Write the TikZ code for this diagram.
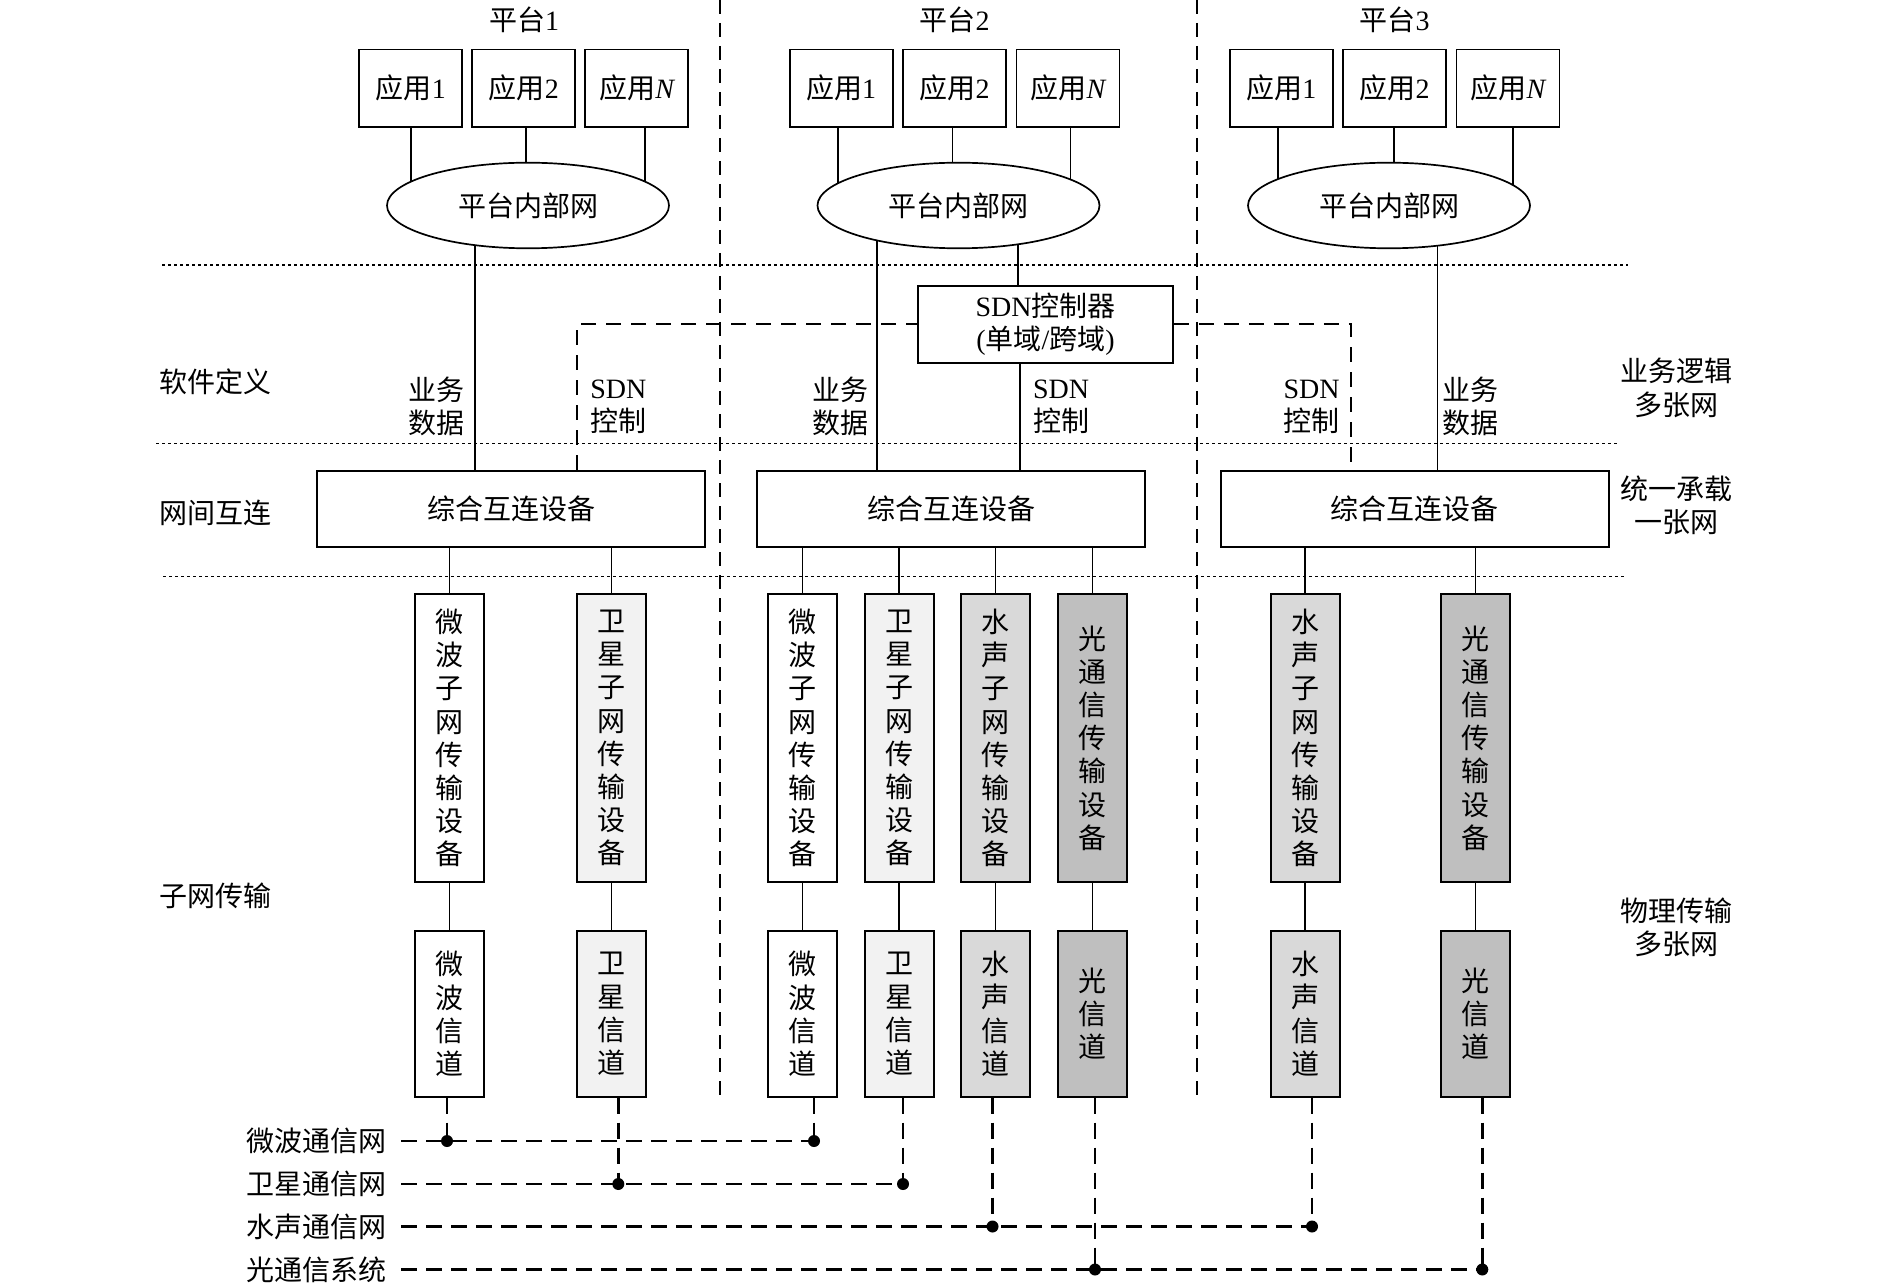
\documentclass[tikz,border=0pt]{standalone}
\usepackage{fontspec}
\setmainfont{Noto Sans CJK SC}
\newfontfamily\tnr{Liberation Serif}
\usetikzlibrary{shapes.geometric,backgrounds}
\begin{document}
\begin{tikzpicture}[x=0.5pt,y=-0.5pt,
  font=\fontsize{14pt}{16.6pt}\selectfont,
  box/.style={draw,line width=0.85pt,inner sep=0pt,align=center,fill=white},
  app/.style={box,minimum width=51.5pt,minimum height=38.8pt},
  ell/.style={box,ellipse,minimum width=141pt,minimum height=42.8pt},
  zbox/.style={box,minimum width=194pt,minimum height=38.3pt},
  tall/.style={box,minimum width=34.5pt,minimum height=144pt},
  chan/.style={box,minimum width=34.5pt,minimum height=83pt},
  lab/.style={inner sep=0pt,align=center},
  conn/.style={line width=0.75pt},
  sepline/.style={line width=0.85pt,dash pattern=on 7pt off 4.5pt},
  dotline/.style={line width=0.75pt,dash pattern=on 1.5pt off 1.5pt},
  sdnd/.style={line width=0.85pt,dash pattern=on 7.5pt off 5pt},
  botd/.style={line width=1.2pt,dash pattern=on 8pt off 4.5pt},
  wfill/.style={fill=white},
  sfill/.style={fill=black!5},
  hfill/.style={fill=black!15},
  gfill/.style={fill=black!25}
]
\useasboundingbox (0,0) rectangle (1890,1283);

% separators and layer lines
\draw[sepline] (720,0) -- (720,1101);
\draw[sepline] (1197,0) -- (1197,1101);
\draw[dotline] (162,265) -- (1628,265);
\draw[dotline] (156,443.3) -- (1619,443.3);
\draw[dotline] (163,576.7) -- (1626,576.7);

% platform labels
\node[lab] (p1) at (524,20) {平台{\tnr 1}};
\node[lab] (p2) at (954.5,20) {平台{\tnr 2}};
\node[lab] (p3) at (1394.7,20) {平台{\tnr 3}};

% apps
\node[app] (a11) at (410.8,88.2) {应用{\tnr 1}};
\node[app] (a12) at (523.8,88.2) {应用{\tnr 2}};
\node[app] (a13) at (636.7,88.2) {应用{\tnr\itshape N}};
\node[app] (a21) at (841.2,88.2) {应用{\tnr 1}};
\node[app] (a22) at (954.5,88.2) {应用{\tnr 2}};
\node[app] (a23) at (1067.9,88.2) {应用{\tnr\itshape N}};
\node[app] (a31) at (1281.3,88.2) {应用{\tnr 1}};
\node[app] (a32) at (1394.7,88.2) {应用{\tnr 2}};
\node[app] (a33) at (1508,88.2) {应用{\tnr\itshape N}};

% ellipses
\node[ell] (e1) at (528,205.5) {平台内部网};
\node[ell] (e2) at (958.5,205.5) {平台内部网};
\node[ell] (e3) at (1389,205.5) {平台内部网};

% SDN controller
\node[box,minimum width=127.5pt,minimum height=38.5pt] (sdn) at (1045.5,324.2) {{\tnr SDN}控制器\\{\tnr(}单域{\tnr/}跨域{\tnr)}};

% interconnect boxes
\node[zbox] (z1) at (511.2,509) {综合互连设备};
\node[zbox] (z2) at (951.2,509) {综合互连设备};
\node[zbox] (z3) at (1414.7,509) {综合互连设备};

% labels in software-defined layer
\node[lab,anchor=east] (bw1) at (465,406.7) {业务\\数据};
\node[lab,anchor=west] (sc1) at (590,406.7) {{\tnr SDN}\\控制};
\node[lab,anchor=east] (bw2) at (869,406.7) {业务\\数据};
\node[lab,anchor=west] (sc2) at (1032.7,406.7) {{\tnr SDN}\\控制};
\node[lab,anchor=east] (sc3) at (1340,406.7) {{\tnr SDN}\\控制};
\node[lab,anchor=west] (bw3) at (1442,406.7) {业务\\数据};

% left labels
\node[lab] (l1) at (215.3,381.7) {软件定义};
\node[lab] (l2) at (215.3,513) {网间互连};
\node[lab] (l3) at (215.3,896) {子网传输};
% right labels
\node[lab] (r1) at (1676,388) {业务逻辑\\多张网};
\node[lab] (r2) at (1676,505.5) {统一承载\\一张网};
\node[lab] (r3) at (1676,927.5) {物理传输\\多张网};

% transmission devices
\node[tall,wfill] (d1) at (449.5,738) {微\\波\\子\\网\\传\\输\\设\\备};
\node[tall,sfill] (d2) at (611.3,738) {卫\\星\\子\\网\\传\\输\\设\\备};
\node[tall,wfill] (d3) at (802.7,738) {微\\波\\子\\网\\传\\输\\设\\备};
\node[tall,sfill] (d4) at (899.2,738) {卫\\星\\子\\网\\传\\输\\设\\备};
\node[tall,hfill] (d5) at (995.7,738) {水\\声\\子\\网\\传\\输\\设\\备};
\node[tall,gfill] (d6) at (1092.5,738) {光\\通\\信\\传\\输\\设\\备};
\node[tall,hfill] (d7) at (1305.2,738) {水\\声\\子\\网\\传\\输\\设\\备};
\node[tall,gfill] (d8) at (1475.7,738) {光\\通\\信\\传\\输\\设\\备};

% channels
\node[chan,wfill] (c1) at (449.5,1013.8) {微\\波\\信\\道};
\node[chan,sfill] (c2) at (611.3,1013.8) {卫\\星\\信\\道};
\node[chan,wfill] (c3) at (802.7,1013.8) {微\\波\\信\\道};
\node[chan,sfill] (c4) at (899.2,1013.8) {卫\\星\\信\\道};
\node[chan,hfill] (c5) at (995.7,1013.8) {水\\声\\信\\道};
\node[chan,gfill] (c6) at (1092.5,1013.8) {光\\信\\道};
\node[chan,hfill] (c7) at (1305.2,1013.8) {水\\声\\信\\道};
\node[chan,gfill] (c8) at (1475.7,1013.8) {光\\信\\道};

% network labels
\node[lab,anchor=east] (n1) at (387,1141) {微波通信网};
\node[lab,anchor=east] (n2) at (387,1184) {卫星通信网};
\node[lab,anchor=east] (n3) at (387,1226.5) {水声通信网};
\node[lab,anchor=east] (n4) at (387,1269.5) {光通信系统};

\begin{scope}[on background layer]
  % apps to platform networks
  \draw[conn] (411,0 |- a11.south) -- (411,0 |- e1.center);
  \draw[conn] (526,0 |- a12.south) -- (526,0 |- e1.center);
  \draw[conn] (645,0 |- a13.south) -- (645,0 |- e1.center);
  \draw[conn] (838,0 |- a21.south) -- (838,0 |- e2.center);
  \draw[conn] (952.5,0 |- a22.south) -- (952.5,0 |- e2.center);
  \draw[conn] (1070.6,0 |- a23.south) -- (1070.6,0 |- e2.center);
  \draw[conn] (1278,0 |- a31.south) -- (1278,0 |- e3.center);
  \draw[conn] (1394,0 |- a32.south) -- (1394,0 |- e3.center);
  \draw[conn] (1513,0 |- a33.south) -- (1513,0 |- e3.center);
  % business data
  \draw[conn] (475,0 |- e1.center) -- (475,0 |- z1.north);
  \draw[conn] (877,0 |- e2.center) -- (877,0 |- z2.north);
  \draw[conn] (1437.4,0 |- e3.center) -- (1437.4,0 |- z3.north);
  % SDN controller links
  \draw[conn] (1018,0 |- e2.center) -- (1018,0 |- sdn.north);
  \draw[conn] (1020,0 |- sdn.south) -- (1020,0 |- z2.north);
\end{scope}

% SDN control dashed
\draw[sdnd] (577,0 |- z1.north) |- (sdn.west);
\draw[sdnd] (sdn.east) -| (1351,0 |- z3.north);

% interconnect to devices
\foreach \d/\z in {d1/z1,d2/z1,d3/z2,d4/z2,d5/z2,d6/z2,d7/z3,d8/z3}
  \draw[conn] (\d.north |- \z.south) -- (\d.north);
\foreach \i in {1,...,8}
  \draw[conn] (d\i.south) -- (c\i.north);

% communication networks
\draw[botd] ([xshift=7pt]n1.east) -- (814,0 |- n1.east);
\draw[botd] ([xshift=7pt]n2.east) -- (903,0 |- n2.east);
\draw[botd] ([xshift=7pt]n3.east) -- (1312,0 |- n3.east);
\draw[botd] ([xshift=7pt]n4.east) -- (1482.3,0 |- n4.east);

\draw[botd] (447,0 |- c1.south) -- (447,0 |- n1.east);
\draw[botd] (814,0 |- c3.south) -- (814,0 |- n1.east);
\draw[botd] (618.3,0 |- c2.south) -- (618.3,0 |- n2.east);
\draw[botd] (903,0 |- c4.south) -- (903,0 |- n2.east);
\draw[botd] (992.5,0 |- c5.south) -- (992.5,0 |- n3.east);
\draw[botd] (1312,0 |- c7.south) -- (1312,0 |- n3.east);
\draw[botd] (1095,0 |- c6.south) -- (1095,0 |- n4.east);
\draw[botd] (1482.3,0 |- c8.south) -- (1482.3,0 |- n4.east);

\fill (447,0 |- n1.east) circle (3pt);
\fill (814,0 |- n1.east) circle (3pt);
\fill (618.3,0 |- n2.east) circle (3pt);
\fill (903,0 |- n2.east) circle (3pt);
\fill (992.5,0 |- n3.east) circle (3pt);
\fill (1312,0 |- n3.east) circle (3pt);
\fill (1095,0 |- n4.east) circle (3pt);
\fill (1482.3,0 |- n4.east) circle (3pt);
\end{tikzpicture}
\end{document}
